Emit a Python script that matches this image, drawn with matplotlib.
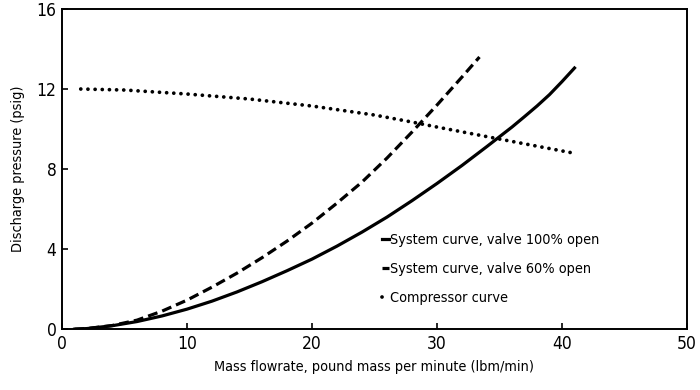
import matplotlib
matplotlib.use("Agg")
from matplotlib import pyplot as plt

plt.rcParams['font.family'] = ['DejaVu Sans']
plt.rcParams['font.stretch'] = 'condensed'

# flow (lbm/min) vs discharge pressure (psig)
flow_open = [1, 2, 4, 6, 8, 10, 12, 14, 16, 18, 20, 22, 24, 26, 28, 30, 32, 34, 36, 37, 38,
             39, 40, 41]
psig_open = [0.0, 0.03, 0.17, 0.38, 0.66, 1.0, 1.4, 1.86, 2.37, 2.92, 3.5, 4.15, 4.85, 5.6,
             6.42, 7.28, 8.18, 9.13, 10.1, 10.62, 11.15, 11.72, 12.37, 13.05]

flow_60 = [1, 2, 4, 6, 8, 10, 12, 14, 16, 18, 20, 22, 24, 26, 28, 30, 32, 33.4]
psig_60 = [0.0, 0.03, 0.18, 0.45, 0.9, 1.45, 2.1, 2.8, 3.57, 4.4, 5.3, 6.3, 7.35, 8.55,
           9.85, 11.2, 12.6, 13.6]

flow_comp = [1.5, 5, 10, 15, 20, 25, 28, 30, 35, 40.9]
psig_comp = [12.0, 11.95, 11.75, 11.5, 11.15, 10.7, 10.35, 10.1, 9.5, 8.8]

labels = ["System curve, valve 100% open", "System curve, valve 60% open", "Compressor curve"]
x_ticks = [0, 10, 20, 30, 40, 50]
y_ticks = [0, 4, 8, 12, 16]

fig = plt.figure(figsize=(7, 3.9), dpi=100)
ax = fig.add_axes([0.0886, 0.156, 0.8928, 0.821])

ax.plot(flow_open, psig_open, color="black", lw=2.3, label=labels[0])
ax.plot(flow_60, psig_60, color="black", lw=2.3, dashes=(3.1, 1.6), label=labels[1])
ax.plot(flow_comp, psig_comp, color="black", lw=2.7, dashes=(0.01, 1.9),
        dash_capstyle="round", label=labels[2])

ax.set_xlim(0, 50)
ax.set_ylim(0, 16)
ax.set_xticks(x_ticks)
ax.set_yticks(y_ticks)
ax.tick_params(direction="in", length=4, width=1.2, labelsize=12.5, pad=4)
for s in ax.spines.values():
    s.set_linewidth(1.4)

ax.set_xlabel("Mass flowrate, pound mass per minute (lbm/min)", fontsize=10.4, labelpad=5)
ax.set_ylabel("Discharge pressure (psig)", fontsize=10.4, labelpad=8)

ax.legend(loc="upper left", bbox_to_anchor=(0.503, 0.318), frameon=False,
          handlelength=0.45, handletextpad=0.1, labelspacing=1.05, fontsize=10.4,
          borderaxespad=0)

fig.savefig("out.png", dpi=100)
